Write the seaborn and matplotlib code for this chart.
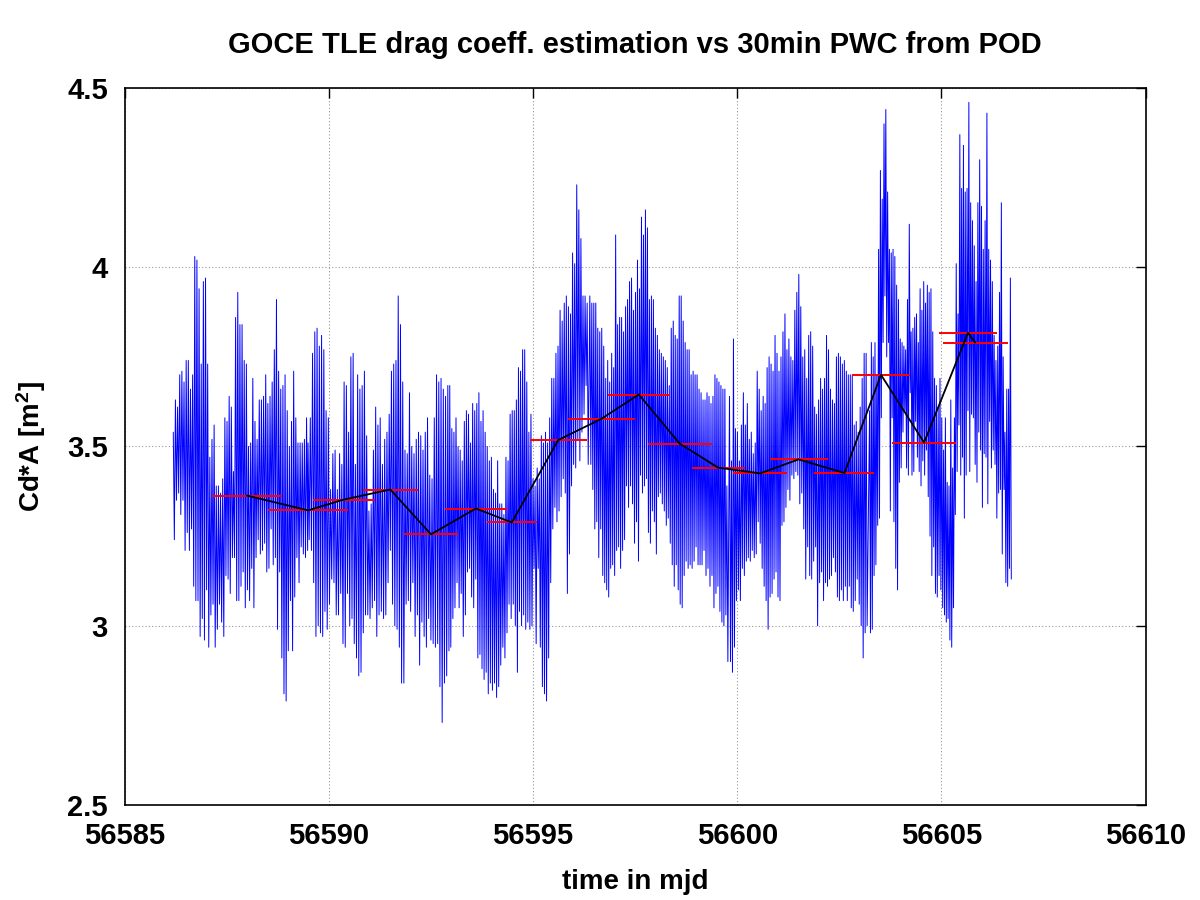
import numpy as np
import pandas as pd
import matplotlib
matplotlib.use('Agg')
import matplotlib.pyplot as plt
import seaborn as sns

sec_start = [56586.19, 56589.49, 56592.96, 56596.39, 56599.81, 56603.24]
sec_end = [56589.48, 56592.94, 56596.35, 56599.77, 56603.18, 56606.71]

top_1 = [3.54, 3.63, 3.61, 3.70, 3.71, 3.68, 3.74, 3.74, 3.66, 3.70,
         4.03, 4.02, 3.94, 3.73, 3.96, 3.97, 3.73, 3.47, 3.52, 3.56,
         3.39, 3.39, 3.37, 3.41, 3.58, 3.57, 3.64, 3.61, 3.43, 3.86,
         3.93, 3.84, 3.84, 3.74, 3.73, 3.50, 3.51, 3.69, 3.57, 3.52,
         3.63, 3.63, 3.64, 3.70, 3.62, 3.64, 3.68, 3.77, 3.91, 3.71,
         3.66, 3.67, 3.70, 3.60, 3.50, 3.57, 3.71, 3.58, 3.51, 3.51,
         3.51, 3.52, 3.58]
bot_1 = [3.24, 3.35, 3.37, 3.31, 3.35, 3.21, 3.26, 3.21, 3.27, 3.11,
         3.07, 3.07, 2.97, 3.02, 2.96, 3.10, 2.94, 3.03, 3.06, 2.94,
         2.99, 3.06, 3.01, 2.97, 3.14, 3.13, 3.09, 3.19, 3.19, 3.07,
         3.07, 3.11, 3.15, 3.05, 3.10, 3.07, 3.16, 3.05, 3.19, 3.24,
         3.20, 3.21, 3.23, 3.15, 3.16, 3.27, 3.17, 3.19, 2.99, 3.15,
         2.91, 2.81, 2.79, 2.93, 3.07, 2.93, 3.08, 3.19, 3.12, 3.22,
         3.20, 3.19, 3.21]

top_2 = [3.51, 3.58, 3.76, 3.82, 3.83, 3.78, 3.81, 3.77, 3.60, 3.58,
         3.38, 3.48, 3.49, 3.38, 3.48, 3.45, 3.68, 3.67, 3.54, 3.75,
         3.76, 3.45, 3.70, 3.66, 3.67, 3.71, 3.53, 3.32, 3.34, 3.49,
         3.61, 3.56, 3.58, 3.45, 3.52, 3.54, 3.59, 3.71, 3.73, 3.74,
         3.92, 3.84, 3.68, 3.49, 3.48, 3.65, 3.50, 3.48, 3.52, 3.54,
         3.53, 3.49, 3.54, 3.58, 3.42, 3.41, 3.58, 3.70, 3.68, 3.69,
         3.66, 3.64, 3.67]
bot_2 = [3.24, 3.21, 3.12, 2.97, 3.00, 2.98, 2.97, 3.04, 2.99, 3.06,
         3.13, 3.12, 3.03, 3.03, 3.09, 2.95, 2.94, 3.09, 3.00, 3.02,
         2.95, 2.91, 2.86, 2.87, 2.98, 3.03, 3.03, 3.02, 3.05, 3.07,
         2.97, 3.03, 3.04, 3.02, 3.03, 3.12, 3.21, 3.06, 3.00, 2.99,
         2.94, 2.84, 2.84, 3.06, 3.07, 3.04, 3.12, 2.97, 3.03, 2.89,
         3.01, 2.97, 2.94, 3.02, 2.96, 2.95, 2.94, 2.95, 2.83, 2.73,
         2.84, 2.86, 2.93]

top_3 = [3.67, 3.55, 3.54, 3.58, 3.50, 3.49, 3.46, 3.57, 3.60, 3.59,
         3.51, 3.62, 3.60, 3.62, 3.65, 3.57, 3.60, 3.54, 3.50, 3.46,
         3.47, 3.38, 3.37, 3.46, 3.34, 3.34, 3.31, 3.47, 3.46, 3.59,
         3.60, 3.60, 3.63, 3.72, 3.71, 3.77, 3.77, 3.68, 3.54, 3.59,
         3.41, 3.39, 3.44, 3.41, 3.53, 3.51, 3.54, 3.51, 3.58, 3.69,
         3.69, 3.76, 3.78, 3.88, 3.85, 3.90, 3.92, 3.89, 3.87, 4.04,
         4.01, 4.23, 4.16, 4.08, 3.92, 3.92, 3.90]
bot_3 = [2.94, 3.02, 3.05, 3.12, 3.05, 3.09, 2.97, 3.03, 3.15, 3.16,
         3.08, 3.05, 3.13, 2.91, 2.92, 2.88, 2.85, 2.87, 2.81, 2.84,
         2.82, 2.84, 2.80, 2.83, 2.89, 2.94, 2.91, 2.98, 3.06, 3.02,
         3.06, 3.00, 2.87, 3.04, 3.00, 3.03, 2.99, 3.01, 2.99, 3.00,
         3.16, 2.95, 3.16, 2.94, 2.83, 2.81, 2.79, 2.91, 3.12, 3.27,
         3.33, 3.29, 3.32, 3.36, 3.41, 3.37, 3.09, 3.20, 3.39, 3.45,
         3.44, 3.52, 3.46, 3.54, 3.59, 3.67, 3.45]

top_4 = [3.92, 3.90, 3.90, 3.90, 3.83, 3.82, 3.83, 3.78, 3.69, 3.74,
         3.68, 3.76, 3.72, 4.09, 3.84, 3.86, 3.86, 3.82, 3.89, 3.91,
         3.96, 3.97, 3.88, 3.93, 4.02, 3.94, 4.14, 4.09, 4.16, 4.11,
         3.91, 3.92, 3.91, 3.83, 3.81, 3.77, 3.76, 3.75, 3.74, 3.72,
         3.67, 3.83, 3.85, 3.81, 3.80, 3.92, 3.92, 3.85, 3.79, 3.77,
         3.77, 3.70, 3.71, 3.70, 3.70, 3.66, 3.65, 3.63, 3.63, 3.65,
         3.64, 3.62, 3.64, 3.70, 3.69, 3.68, 3.67, 3.66, 3.66, 3.39]
bot_4 = [3.45, 3.38, 3.27, 3.29, 3.19, 3.27, 3.14, 3.12, 3.10, 3.08,
         3.16, 3.17, 3.14, 3.21, 3.22, 3.16, 3.21, 3.24, 3.39, 3.33,
         3.39, 3.34, 3.23, 3.29, 3.18, 3.42, 3.37, 3.39, 3.41, 3.26,
         3.23, 3.32, 3.29, 3.20, 3.36, 3.37, 3.34, 3.32, 3.28, 3.30,
         3.23, 3.17, 3.11, 3.17, 3.10, 3.06, 3.05, 3.14, 3.18, 3.16,
         3.17, 3.16, 3.18, 3.22, 3.17, 3.17, 3.17, 3.21, 3.14, 3.16,
         3.11, 3.14, 3.05, 3.09, 3.11, 3.04, 3.01, 3.00, 3.03, 2.90]

top_5 = [3.64, 3.46, 3.80, 3.55, 3.54, 3.46, 3.56, 3.65, 3.56, 3.62,
         3.52, 3.54, 3.48, 3.51, 3.71, 3.66, 3.60, 3.64, 3.62, 3.72,
         3.75, 3.73, 3.71, 3.81, 3.76, 3.71, 3.75, 3.82, 3.87, 3.77,
         3.80, 3.75, 3.74, 3.88, 3.93, 3.98, 3.89, 3.75, 3.77, 3.69,
         3.81, 3.82, 3.78, 3.61, 3.59, 3.63, 3.69, 3.66, 3.69, 3.81,
         3.77, 3.66, 3.63, 3.62, 3.75, 3.76, 3.75, 3.73, 3.74, 3.71,
         3.70, 3.70, 3.70, 3.56, 3.57, 3.54, 3.61, 3.69, 3.76, 3.76]
bot_5 = [2.90, 2.87, 2.94, 3.07, 3.10, 3.07, 3.16, 3.14, 3.18, 3.19,
         3.18, 3.21, 3.19, 3.20, 3.29, 3.23, 3.16, 3.11, 3.07, 2.99,
         3.08, 3.09, 3.13, 3.15, 3.08, 3.07, 3.28, 3.29, 3.33, 3.38,
         3.35, 3.42, 3.41, 3.43, 3.42, 3.34, 3.37, 3.27, 3.13, 3.22,
         3.14, 3.13, 3.18, 3.22, 3.00, 3.12, 3.15, 3.07, 3.12, 3.11,
         3.13, 3.14, 3.19, 3.15, 3.08, 3.07, 3.10, 3.07, 3.11, 3.07,
         3.11, 3.05, 3.04, 3.07, 3.13, 3.06, 3.00, 2.91, 2.98, 3.00]

top_6 = [3.60, 3.79, 3.75, 3.79, 3.70, 4.05, 4.27, 4.19, 4.40, 4.44,
         4.21, 4.05, 4.04, 4.05, 4.03, 3.95, 3.91, 3.80, 3.79, 3.78,
         3.77, 3.91, 4.12, 3.82, 3.83, 3.86, 3.87, 3.79, 3.94, 3.88,
         3.96, 3.90, 3.95, 3.93, 3.94, 3.82, 3.69, 3.67, 3.61, 3.69,
         3.58, 3.49, 3.58, 3.40, 3.39, 3.63, 3.44, 3.58, 4.01, 3.87,
         4.37, 4.22, 4.34, 4.21, 4.22, 4.46, 4.18, 4.13, 4.06, 3.96,
         4.18, 4.30, 4.17, 4.05, 4.13, 4.43, 4.05, 4.02, 3.96, 3.81,
         3.74, 3.78, 3.93, 4.18, 3.75, 3.54, 3.66, 3.66, 3.97]
bot_6 = [2.98, 2.99, 3.14, 3.17, 3.28, 3.30, 3.58, 3.79, 3.92, 3.75,
         3.79, 3.32, 3.58, 3.29, 3.16, 3.10, 3.40, 3.44, 3.54, 3.60,
         3.44, 3.42, 3.65, 3.42, 3.43, 3.57, 3.47, 3.43, 3.39, 3.46,
         3.42, 3.49, 3.36, 3.25, 3.14, 3.22, 3.09, 3.08, 3.14, 3.10,
         3.05, 3.03, 3.01, 3.02, 2.96, 2.94, 3.05, 3.31, 3.43, 3.56,
         3.42, 3.47, 3.30, 3.42, 3.60, 3.43, 3.59, 3.58, 3.45, 3.40,
         3.54, 3.49, 3.33, 3.48, 3.47, 3.34, 3.57, 3.44, 3.49, 3.45,
         3.30, 3.37, 3.38, 3.20, 3.38, 3.12, 3.11, 3.16, 3.13]

# TLE drag estimates: fit span start / end (mjd) and Cd*A value
tle_start = [56587.14, 56588.51, 56589.61, 56590.83, 56591.84, 56592.84, 56593.87,
             56594.92, 56595.85, 56596.83, 56597.81, 56598.88, 56599.89, 56600.79,
             56601.89, 56602.82, 56603.80, 56604.93, 56605.03]
tle_end = [56588.85, 56590.47, 56591.13, 56592.18, 56593.16, 56594.36, 56595.09,
           56596.31, 56597.49, 56598.35, 56599.37, 56600.18, 56601.23, 56602.21,
           56603.36, 56604.22, 56605.35, 56606.37, 56606.62]
tle_val = [3.363, 3.322, 3.352, 3.380, 3.255, 3.327, 3.288, 3.518, 3.577, 3.645,
           3.508, 3.441, 3.425, 3.464, 3.426, 3.700, 3.511, 3.817, 3.790]

xtick_vals = [56585, 56590, 56595, 56600, 56605, 56610]
xtick_labels = ['56585', '56590', '56595', '56600', '56605', '56610']
ytick_vals = [2.5, 3.0, 3.5, 4.0, 4.5]
ytick_labels = ['2.5', '3', '3.5', '4', '4.5']

#build pwc series (top, bottom, top, bottom ... per stretch)
tops = [top_1, top_2, top_3, top_4, top_5, top_6]
bots = [bot_1, bot_2, bot_3, bot_4, bot_5, bot_6]
t_all, v_all = [], []
for s0, s1, tp, bt in zip(sec_start, sec_end, tops, bots):
    vals = np.column_stack([tp, bt]).ravel()
    t_all.append(np.linspace(s0, s1, len(vals)))
    v_all.append(vals)
pwc = pd.DataFrame({'mjd': np.concatenate(t_all), 'cda': np.concatenate(v_all)})

tle = pd.DataFrame({'start': tle_start, 'end': tle_end, 'cda': tle_val})
tle['mid'] = (tle['start'] + tle['end']) / 2

sns.set_style('white')
plt.rcParams['font.family'] = ['Liberation Sans', 'DejaVu Sans']
plt.rcParams['mathtext.fontset'] = 'custom'
plt.rcParams['mathtext.bf'] = 'Liberation Sans:bold'
plt.rcParams['mathtext.rm'] = 'Liberation Sans:bold'
plt.rcParams['mathtext.default'] = 'bf'
plt.rcParams['text.color'] = 'black'
plt.rcParams['axes.labelcolor'] = 'black'
plt.rcParams['xtick.color'] = 'black'
plt.rcParams['ytick.color'] = 'black'

fig = plt.figure(figsize=(12, 9), dpi=100)
ax = fig.add_axes([0.1039, 0.1056, 0.8508, 0.7966])

sns.lineplot(data=pwc, x='mjd', y='cda', sort=False, estimator=None,
             color='#0000ff', linewidth=0.7, ax=ax)
ax.hlines(tle['cda'], tle['start'], tle['end'], colors='#ff0000', linewidth=1.4, zorder=3)
sns.lineplot(data=tle, x='mid', y='cda', sort=False, estimator=None,
             color='black', linewidth=1.3, ax=ax, zorder=4)

ax.set_xlim(56585, 56610)
ax.set_ylim(2.5, 4.5)
ax.set_xticks(xtick_vals)
ax.set_xticklabels(xtick_labels, fontsize=21, fontweight='bold')
ax.set_yticks(ytick_vals)
ax.set_yticklabels(ytick_labels, fontsize=21, fontweight='bold')
ax.tick_params(direction='in', length=7, width=1, top=True, right=True, pad=12)
ax.tick_params(axis='x', pad=12)

ax.grid(True, color='#999999', linestyle=(0, (1, 2)), linewidth=0.8)
ax.set_axisbelow(True)
for sp in ax.spines.values():
    sp.set_color('black')
    sp.set_linewidth(1.2)

ax.set_xlabel('time in mjd', fontsize=20, fontweight='bold', labelpad=14)
ax.set_ylabel('Cd*A [m$^{2}$]', fontsize=20, fontweight='bold', labelpad=14)
fig.text(0.529, 0.95, 'GOCE TLE drag coeff. estimation vs 30min PWC from POD',
         ha='center', va='center', fontsize=21, fontweight='bold')

fig.savefig('out.png', dpi=100)
